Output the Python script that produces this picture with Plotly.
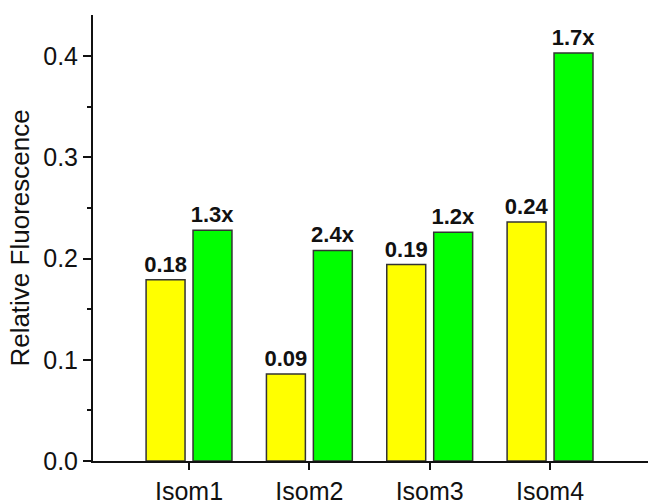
import plotly.graph_objects as go

categories = ["Isom1", "Isom2", "Isom3", "Isom4"]
yellow_values = [0.179, 0.086, 0.194, 0.236]
green_values = [0.228, 0.208, 0.226, 0.403]
yellow_labels = ["0.18", "0.09", "0.19", "0.24"]
green_labels = ["1.3x", "2.4x", "1.2x", "1.7x"]

FONT = "Liberation Sans, Arial, sans-serif"
label_font = dict(family=FONT, size=22, color="#111111", weight="bold")

fig = go.Figure()
fig.add_trace(go.Bar(
    x=categories, y=yellow_values, text=yellow_labels,
    textposition="outside", textfont=label_font, constraintext="none",
    marker=dict(color="#FFFF00", line=dict(color="#333333", width=1.5)),
    cliponaxis=False, showlegend=False,
))
fig.add_trace(go.Bar(
    x=categories, y=green_values, text=green_labels,
    textposition="outside", textfont=label_font, constraintext="none",
    marker=dict(color="#00FF00", line=dict(color="#333333", width=1.5)),
    cliponaxis=False, showlegend=False,
))

fig.update_layout(
    width=648, height=501,
    margin=dict(l=93, r=0, t=15, b=40),
    paper_bgcolor="white", plot_bgcolor="white",
    barmode="group", bargap=0.22, bargroupgap=0.17,
    font=dict(family=FONT, color="#111111"),
)
fig.update_xaxes(
    type="category", range=[-0.798, 3.814],
    showline=True, linecolor="#111111", linewidth=2,
    ticks="outside", ticklen=7, tickwidth=1.5, tickcolor="#111111",
    tickfont=dict(size=25, family=FONT, color="#111111"),
    showgrid=False, zeroline=False, automargin=False,
)
fig.update_yaxes(
    range=[0, 0.4405], dtick=0.1, tick0=0, tickformat=".1f",
    showline=True, linecolor="#111111", linewidth=2,
    ticks="outside", ticklen=8, tickwidth=1.5, tickcolor="#111111",
    tickfont=dict(size=25, family=FONT, color="#111111"),
    minor=dict(dtick=0.05, ticks="outside", ticklen=4, tickwidth=1.5, tickcolor="#111111"),
    showgrid=False, zeroline=False, automargin=False,
    title=dict(text="Relative Fluorescence", font=dict(size=26, family=FONT, color="#111111"), standoff=6),
)

fig.write_html(
    "out.html",
    config={"displayModeBar": False},
    post_script="document.body.style.margin='0';document.body.style.overflow='hidden';",
)
